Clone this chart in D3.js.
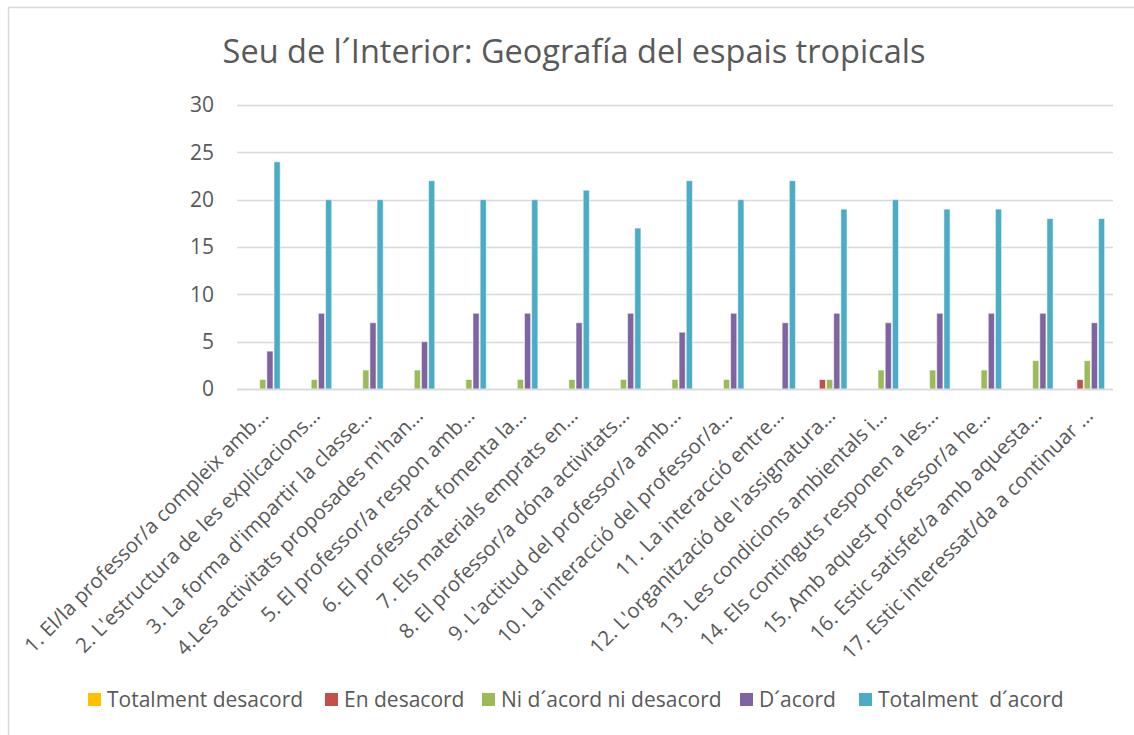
<!DOCTYPE html>
<html>
<head>
<meta charset="utf-8">
<script src="https://cdn.jsdelivr.net/npm/d3@7"></script>
<style>
  html, body { margin: 0; padding: 0; background: #fff; }
  svg { display: block; font-family: "Open Sans", "Noto Sans", sans-serif; }
</style>
</head>
<body>
<svg id="chart" width="1134" height="735"></svg>
<script>
const title = "Seu de l\u00b4Interior: Geografía del espais tropicals";

const categories = [
  "1. El/la professor/a compleix amb…",
  "2. L'estructura de les explicacions…",
  "3. La forma d'impartir la classe…",
  "4.Les activitats proposades m'han…",
  "5. El professor/a respon amb…",
  "6. El professorat fomenta la…",
  "7. Els materials emprats en…",
  "8. El professor/a dóna activitats…",
  "9. L'actitud del professor/a amb…",
  "10. La interacció del professor/a…",
  "11. La interacció entre…",
  "12. L'organització de l'assignatura…",
  "13. Les condicions ambientals i…",
  "14. Els continguts responen a les…",
  "15. Amb aquest professor/a he…",
  "16. Estic satisfet/a amb aquesta…",
  "17. Estic interessat/da a continuar …"
];

const seriesNames = [
  "Totalment desacord",
  "En desacord",
  "Ni d\u00b4acord ni desacord",
  "D\u00b4acord",
  "Totalment  d\u00b4acord"
];

const totalmentDesacord = [0,0,0,0,0,0,0,0,0,0,0,0,0,0,0,0,0];
const enDesacord        = [0,0,0,0,0,0,0,0,0,0,0,1,0,0,0,0,1];
const niAcordNiDesacord = [1,1,2,2,1,1,1,1,1,1,0,1,2,2,2,3,3];
const dAcord            = [4,8,7,5,8,8,7,8,6,8,7,8,7,8,8,8,7];
const totalmentAcord    = [24,20,20,22,20,20,21,17,22,20,22,19,20,19,19,18,18];

const yTicks = [0, 5, 10, 15, 20, 25, 30];
const colors = ["#FFC000", "#C0504D", "#9BBB59", "#8064A2", "#4BACC6"];

const seriesValues = [totalmentDesacord, enDesacord, niAcordNiDesacord, dAcord, totalmentAcord];

const svg = d3.select("#chart");
const W = 1134, H = 735;
const plot = { left: 237, right: 1113, top: 105, bottom: 389 };
const textColor = "#595959";
const font = "Open Sans, Noto Sans, sans-serif";

// outer chart frame
svg.append("rect")
  .attr("x", 8.5).attr("y", 7.5)
  .attr("width", W + 20).attr("height", H + 20)
  .attr("fill", "none").attr("stroke", "#D9D9D9").attr("stroke-width", 1.5);

// title
svg.append("text")
  .attr("x", 574).attr("y", 63)
  .attr("text-anchor", "middle")
  .attr("fill", textColor)
  .attr("font-size", 32.5)
  .text(title);

const x0 = d3.scaleBand()
  .domain(categories)
  .range([plot.left, plot.right])
  .paddingInner(2.19 / 7.19)
  .paddingOuter(2.19 / 7.19 / 2);

const x1 = d3.scaleBand()
  .domain(d3.range(seriesNames.length))
  .range([0, x0.bandwidth()]);

const y = d3.scaleLinear().domain([0, 30]).range([plot.bottom, plot.top]);

// horizontal gridlines
svg.append("g")
  .selectAll("line")
  .data(yTicks)
  .join("line")
  .attr("x1", plot.left).attr("x2", plot.right)
  .attr("y1", d => Math.round(y(d)) + 0.5)
  .attr("y2", d => Math.round(y(d)) + 0.5)
  .attr("stroke", "#D9D9D9").attr("stroke-width", 1.3);

// y axis labels
const yAxis = d3.axisLeft(y).tickValues(yTicks).tickSize(0).tickPadding(0);
const yg = svg.append("g")
  .attr("transform", `translate(${plot.left - 23},0)`)
  .call(yAxis);
yg.select(".domain").remove();
yg.selectAll("text")
  .attr("fill", textColor)
  .attr("font-size", 21)
  .attr("font-family", font);

// bars
const rows = categories.map((c, i) => ({ cat: c, vals: seriesValues.map(s => s[i]) }));
const groups = svg.append("g")
  .selectAll("g")
  .data(rows)
  .join("g")
  .attr("transform", d => `translate(${x0(d.cat)},0)`);

groups.selectAll("rect")
  .data(d => d.vals.map((v, k) => ({ v, k })))
  .join("rect")
  .attr("x", d => x1(d.k) + 0.5)
  .attr("width", x1.bandwidth() - 1)
  .attr("y", d => y(d.v))
  .attr("height", d => y(0) - y(d.v))
  .attr("fill", d => colors[d.k])
  .attr("stroke", "#ffffff")
  .attr("stroke-opacity", 0.55)
  .attr("stroke-width", 1);

// baseline
svg.append("line")
  .attr("x1", plot.left).attr("x2", plot.right)
  .attr("y1", y(0) + 0.5).attr("y2", y(0) + 0.5)
  .attr("stroke", "#D9D9D9").attr("stroke-width", 1.5);

// category labels, rotated
const xAxis = d3.axisBottom(x0).tickSize(0).tickPadding(0);
const xg = svg.append("g")
  .attr("transform", `translate(0,${plot.bottom})`)
  .call(xAxis);
xg.select(".domain").remove();
xg.selectAll(".tick text")
  .attr("fill", textColor)
  .attr("font-size", 20.5)
  .attr("font-family", font)
  .attr("text-anchor", "end")
  .attr("dy", null)
  .attr("y", 0)
  .attr("transform", "translate(7,28) rotate(-45)");

// legend
const legendX = [88, 325, 482, 740, 859];
const legend = svg.append("g")
  .selectAll("g")
  .data(seriesNames)
  .join("g")
  .attr("transform", (d, i) => `translate(${legendX[i]},699)`);
legend.append("rect")
  .attr("x", 0).attr("y", -6)
  .attr("width", 13).attr("height", 13)
  .attr("fill", (d, i) => colors[i]);
legend.append("text")
  .attr("x", 19).attr("y", 7.5)
  .attr("fill", textColor)
  .attr("font-size", 21)
  .attr("font-family", font)
  .style("white-space", "pre")
  .text(d => d);
</script>
</body>
</html>
